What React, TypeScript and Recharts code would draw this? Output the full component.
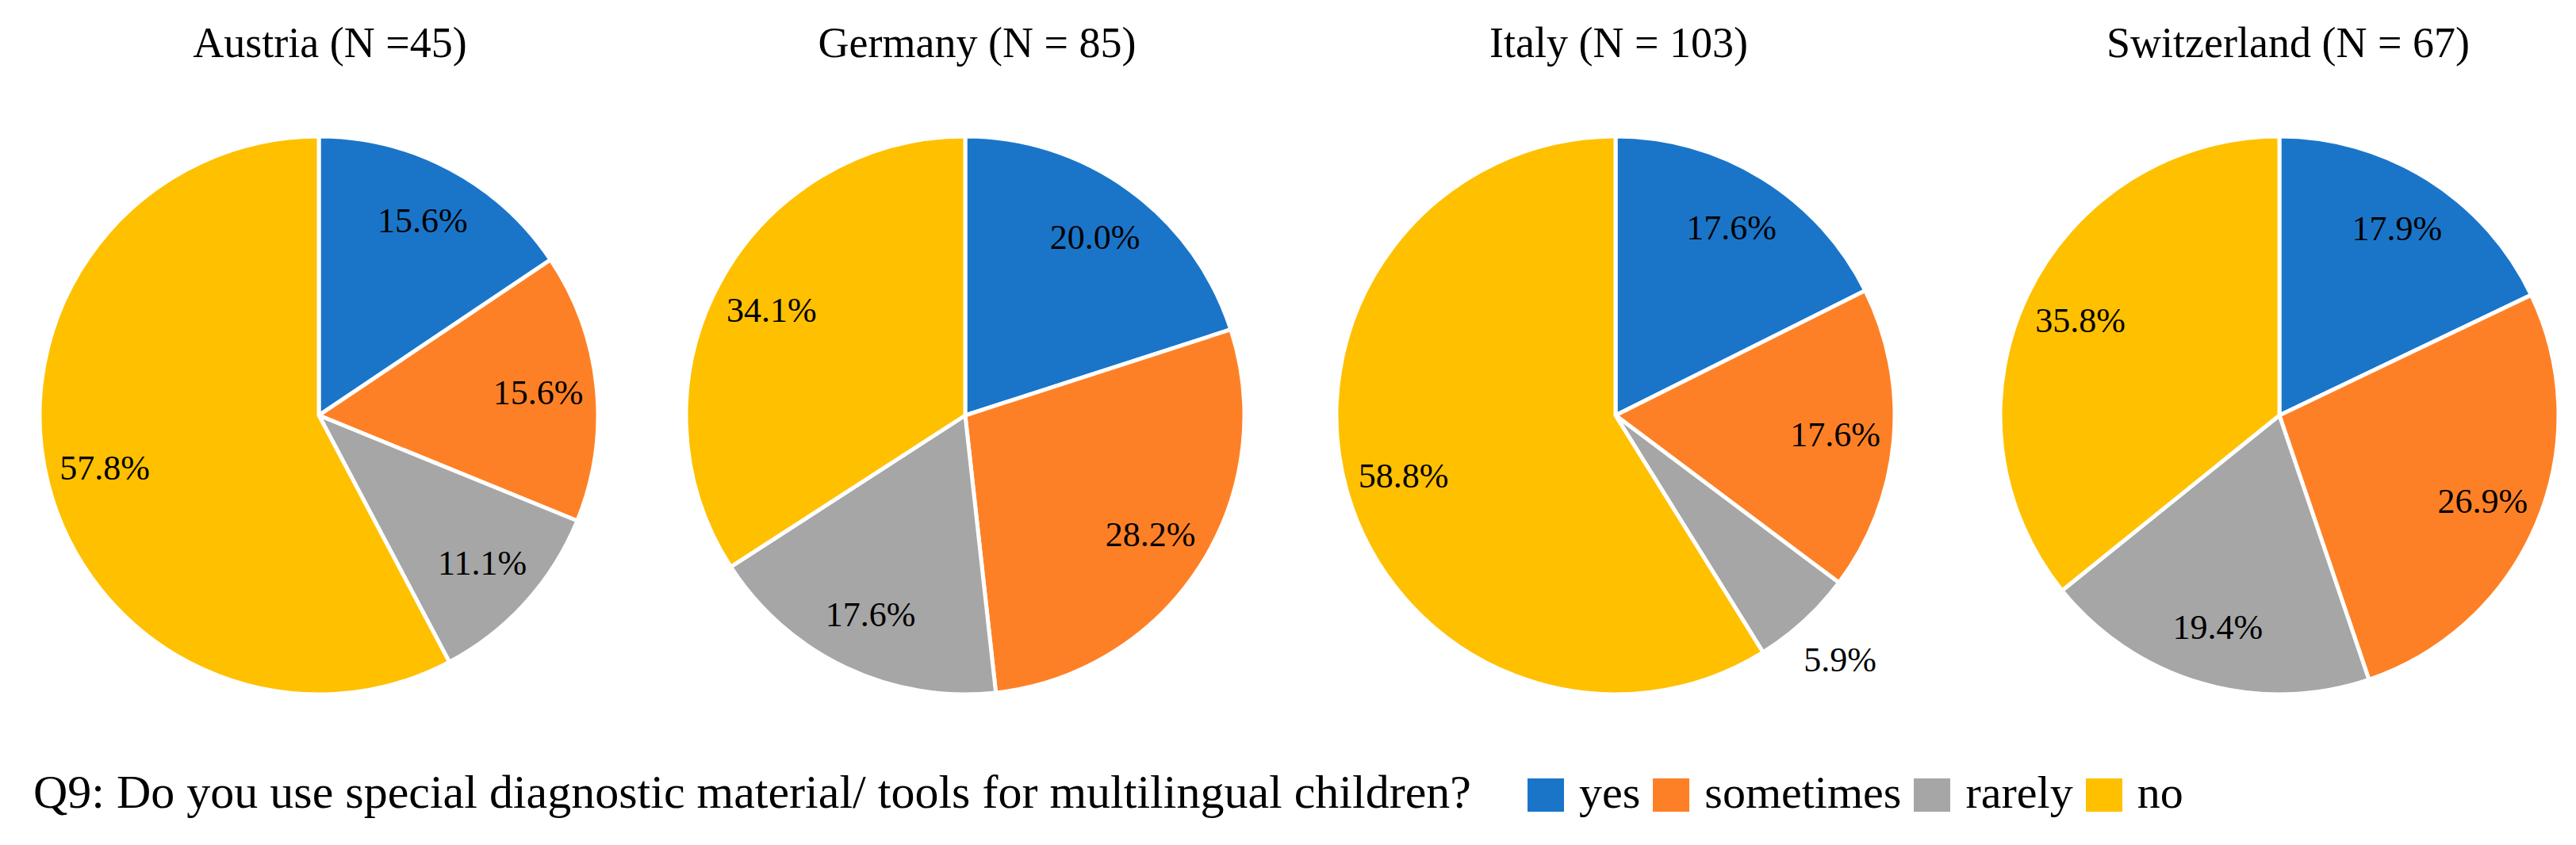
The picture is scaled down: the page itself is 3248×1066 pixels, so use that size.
import { PieChart, Pie, Cell } from 'recharts';

const categories = ['yes', 'sometimes', 'rarely', 'no'];
const colors = ['#1A75C9', '#FE8026', '#A6A6A6', '#FFC000'];

const titles = ['Austria (N =45)', 'Germany (N = 85)', 'Italy (N = 103)', 'Switzerland (N = 67)'];
const austria = [15.6, 15.6, 11.1, 57.8];
const germany = [20.0, 28.2, 17.6, 34.1];
const italy = [17.6, 17.6, 5.9, 58.8];
const switzerland = [17.9, 26.9, 19.4, 35.8];

const question = 'Q9: Do you use special diagnostic material/ tools for multilingual children?';

const FONT = '"Liberation Serif", "Times New Roman", serif';
const RADIAN = Math.PI / 180;

// layout of the four pies (centres in px)
const pieX = [397, 1212, 2032, 2869];
const titleX = [416, 1232, 2041, 2885];
const pieY = 519;
const R = 352;

const series = [austria, germany, italy, switzerland].map((vals) =>
  categories.map((name, i) => ({ name, value: vals[i] }))
);

const renderLabel = (props: any) => {
  const { cx, cy, midAngle, outerRadius, value } = props;
  const r = value < 8 ? outerRadius * 1.19 : outerRadius * 0.79;
  const x = cx + r * Math.cos(-midAngle * RADIAN);
  const y = cy + r * Math.sin(-midAngle * RADIAN);
  return (
    <text
      x={x}
      y={y}
      fill="#000"
      textAnchor="middle"
      dominantBaseline="central"
      fontSize={44}
      fontFamily={FONT}
    >
      {`${value.toFixed(1)}%`}
    </text>
  );
};

export default function App() {
  return (
    <div
      style={{
        position: 'absolute',
        left: 0,
        top: 0,
        width: 3248,
        height: 1066,
        background: '#fff',
        fontFamily: FONT,
        color: '#000',
        overflow: 'hidden',
      }}
    >
      {titles.map((t, i) => (
        <div
          key={t}
          style={{
            position: 'absolute',
            left: titleX[i] - 300,
            width: 600,
            top: 20,
            textAlign: 'center',
            fontSize: 54,
            lineHeight: '68px',
            whiteSpace: 'nowrap',
          }}
        >
          {t}
        </div>
      ))}

      <div style={{ position: 'absolute', left: 0, top: 0 }}>
        <PieChart width={3248} height={920}>
          {series.map((data, k) => (
            <Pie
              key={titles[k]}
              data={data}
              dataKey="value"
              nameKey="name"
              cx={pieX[k]}
              cy={pieY}
              outerRadius={R}
              startAngle={90}
              endAngle={-270}
              stroke="#fff"
              strokeWidth={5}
              labelLine={false}
              label={renderLabel}
              isAnimationActive={false}
            >
              {data.map((d, i) => (
                <Cell key={d.name} fill={colors[i]} />
              ))}
            </Pie>
          ))}
        </PieChart>
      </div>

      <div
        style={{
          position: 'absolute',
          left: 42,
          top: 963,
          fontSize: 60,
          lineHeight: '72px',
          whiteSpace: 'nowrap',
        }}
      >
        {question}
      </div>

      <div
        style={{
          position: 'absolute',
          left: 1926,
          top: 964,
          display: 'flex',
          alignItems: 'center',
          fontSize: 58,
          lineHeight: '72px',
          whiteSpace: 'nowrap',
        }}
      >
        {categories.map((c, i) => (
          <div key={c} style={{ display: 'flex', alignItems: 'center', marginRight: 16 }}>
            <span
              style={{
                display: 'inline-block',
                width: 46,
                height: 42,
                background: colors[i],
                marginRight: 19,
                marginTop: 6,
              }}
            />
            <span>{c}</span>
          </div>
        ))}
      </div>
    </div>
  );
}
